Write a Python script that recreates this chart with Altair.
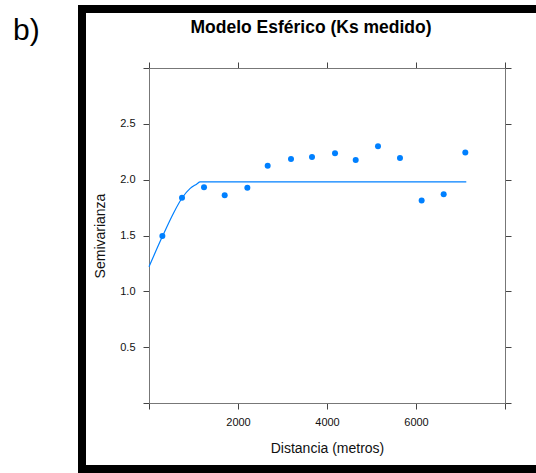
import altair as alt
import pandas as pd

# Experimental semivariogram points
dist = [300, 742, 1236, 1701, 2210, 2667, 3191, 3663, 4180, 4645, 5146, 5640, 6127, 6622, 7108]
gamma = [1.496, 1.837, 1.933, 1.861, 1.927, 2.124, 2.186, 2.204, 2.237, 2.177, 2.30, 2.195, 1.813, 1.870, 2.243]

# Fitted spherical model curve
model_dist = [0, 300, 550, 750, 920, 1070, 1150, 7130]
model_gamma = [1.22, 1.49, 1.70, 1.84, 1.92, 1.96, 1.98, 1.98]

x_ticks = [0, 2000, 4000, 6000, 8000]
y_ticks = [0, 0.5, 1.0, 1.5, 2.0, 2.5, 3.0]

FONT = "Liberation Sans"
BLUE = "#0080ff"

pts = pd.DataFrame({"d": dist, "g": gamma})
mdl = pd.DataFrame({"d": model_dist, "g": model_gamma})

xscale = alt.Scale(domain=[0, 8000], nice=False, zero=False)
yscale = alt.Scale(domain=[0, 3.0], nice=False, zero=False)

common_axis = dict(grid=False, tickSize=6, domainColor="#777777", tickColor="#444444",
                   domainWidth=1, tickWidth=1, labelFont=FONT, titleFont=FONT,
                   labelColor="#111111", titleColor="#111111", labelFontSize=11,
                   titleFontSize=14, titleFontWeight="normal")

points = alt.Chart(pts).mark_point(filled=True, shape="circle", size=36, color=BLUE, opacity=1).encode(
    x=alt.X("d:Q", scale=xscale,
            axis=alt.Axis(orient="bottom", values=x_ticks, title="Distancia (metros)", format="d",
                          labelExpr="datum.value == 0 || datum.value == 8000 ? '' : datum.label",
                          labelPadding=7, titlePadding=14, **common_axis)),
    y=alt.Y("g:Q", scale=yscale,
            axis=alt.Axis(orient="left", values=y_ticks, title="Semivarianza", format=".1f",
                          labelExpr="datum.value == 0 || datum.value == 3 ? '' : datum.label",
                          labelPadding=8, titlePadding=12, **common_axis)),
)

line = alt.Chart(mdl).mark_line(color=BLUE, strokeWidth=1.2, interpolate="monotone").encode(
    x=alt.X("d:Q", scale=xscale,
            axis=alt.Axis(orient="top", values=x_ticks, labels=False, title=None, **common_axis)),
    y=alt.Y("g:Q", scale=yscale,
            axis=alt.Axis(orient="right", values=y_ticks, labels=False, title=None, **common_axis)),
)

one = pd.DataFrame({"k": [0]})

frame = alt.Chart(one).mark_rect(filled=False, stroke="black", strokeWidth=8).encode(
    x=alt.value(-67), x2=alt.value(396), y=alt.value(-59), y2=alt.value(401)
)

title_txt = alt.Chart(pd.DataFrame({"t": ["Modelo Esférico (Ks medido)"]})).mark_text(
    font=FONT, fontSize=17.5, fontWeight="bold", align="center", baseline="alphabetic", color="black"
).encode(text="t:N", x=alt.value(162), y=alt.value(-35))

panel_txt = alt.Chart(pd.DataFrame({"t": ["b)"]})).mark_text(
    font=FONT, fontSize=30, align="left", baseline="alphabetic", color="black"
).encode(text="t:N", x=alt.value(-136), y=alt.value(-28))

chart = alt.layer(points, line, frame, title_txt, panel_txt).properties(
    width=356, height=335,
    autosize=alt.AutoSizeParams(type="none"),
    padding={"left": 149, "top": 68, "right": 31, "bottom": 70},
    background="white",
).configure_view(strokeWidth=0)

chart.save("out.html", embed_options={"renderer": "svg", "actions": False})
